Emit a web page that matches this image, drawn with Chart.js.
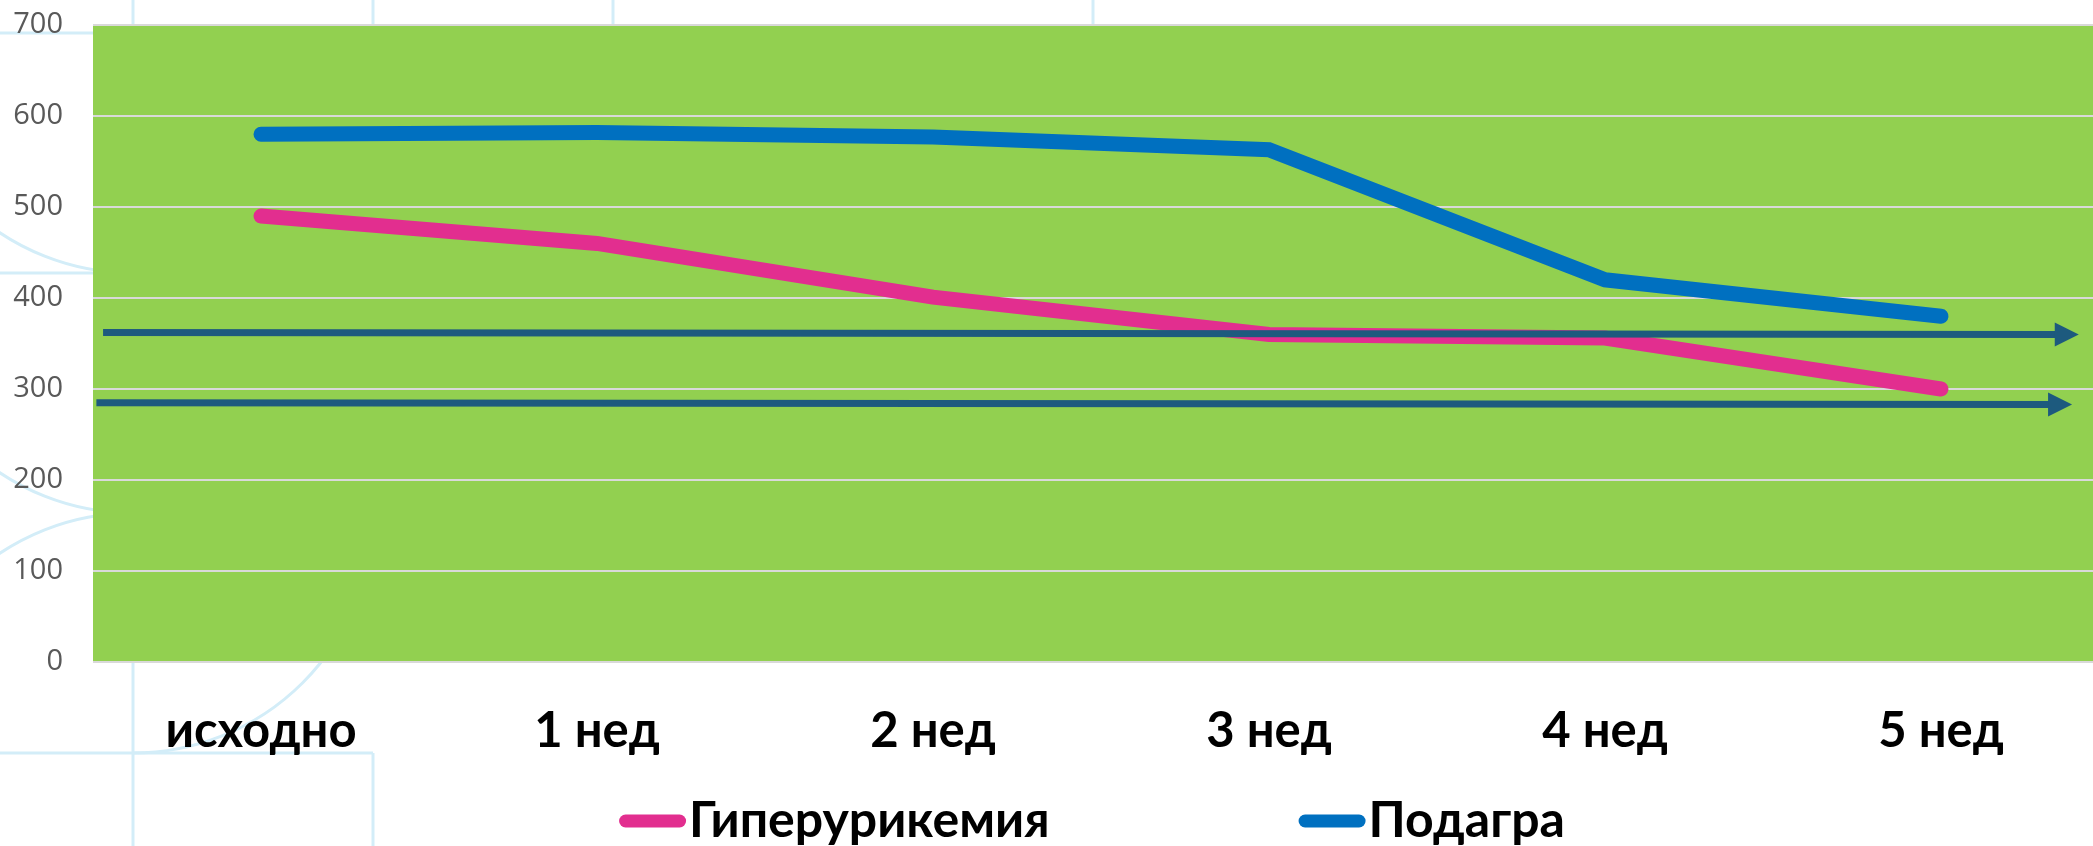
<!DOCTYPE html>
<html>
<head>
<meta charset="utf-8">
<script src="https://cdn.jsdelivr.net/npm/chart.js@4/dist/chart.umd.min.js"></script>
<style>
  html, body { margin: 0; padding: 0; background: #ffffff; overflow: hidden; }
  #wrap { position: relative; width: 2130px; height: 846px; }
</style>
</head>
<body>
<div id="wrap"><canvas id="c"></canvas></div>
<script>
// Weeks of observation
const categories = ['исходно', '1 нед', '2 нед', '3 нед', '4 нед', '5 нед'];
// Serum uric acid, µmol/l
const hyperuricemia = [490, 460, 401, 360, 356, 300];
const gout = [580, 582, 577, 563, 420, 380];
const seriesNames = ['Гиперурикемия', 'Подагра'];
// Target levels marked with arrows (value at start, value at end)
const targetStart = [362, 285];
const targetEnd = [360, 283];
// Value axis
const yMin = 0, yMax = 700, yStep = 100;

const PINK = '#E22E8F';
const BLUE = '#0070C0';
const ARROW = '#1D5A7E';
const PLOT_BG = '#92D050';
const DECOR = '#d3edf8';

// Light decorative pattern behind the chart plus the green plot background
const backdrop = {
  id: 'backdrop',
  beforeDraw(chart) {
    const { ctx, chartArea: a } = chart;
    ctx.save();
    ctx.strokeStyle = DECOR;
    ctx.lineWidth = 3;
    const R = 240;
    const line = (x1, y1, x2, y2) => { ctx.beginPath(); ctx.moveTo(x1, y1); ctx.lineTo(x2, y2); ctx.stroke(); };
    const arc = (cx, cy, s, e) => { ctx.beginPath(); ctx.arc(cx, cy, R, s, e); ctx.stroke(); };
    [133, 373, 613, 1093].forEach(x => line(x, 0, x, 60));
    line(133, 600, 133, 846);
    line(373, 753, 373, 846);
    line(0, 33, 140, 33);
    line(0, 273, 140, 273);
    line(0, 753, 373, 753);
    arc(133, 33, Math.PI / 2, Math.PI);
    arc(133, 273, Math.PI / 2, Math.PI);
    arc(133, 753, Math.PI, Math.PI * 1.5);
    arc(133, 513, 0, Math.PI / 2);
    ctx.fillStyle = PLOT_BG;
    ctx.fillRect(a.left, a.top, a.right - a.left, a.bottom - a.top);
    ctx.restore();
  }
};

// Horizontal target arrows drawn over the series
const targetArrows = {
  id: 'targetArrows',
  afterDatasetsDraw(chart, args, opts) {
    const { ctx, scales: { x, y } } = chart;
    ctx.save();
    ctx.strokeStyle = ARROW;
    ctx.fillStyle = ARROW;
    ctx.lineWidth = opts.width;
    targetStart.forEach((v, i) => {
      const x1 = x.getPixelForValue(opts.from[i]);
      const x2 = x.getPixelForValue(opts.to[i]);
      const y1 = y.getPixelForValue(v);
      const y2 = y.getPixelForValue(targetEnd[i]);
      const hl = opts.headLength, hw = opts.headWidth;
      const bx = x2 - hl;
      const by = y1 + (y2 - y1) * (bx - x1) / (x2 - x1);
      ctx.beginPath();
      ctx.moveTo(x1, y1);
      ctx.lineTo(bx + 1, by);
      ctx.stroke();
      ctx.beginPath();
      ctx.moveTo(x2, y2);
      ctx.lineTo(bx, by - hw / 2);
      ctx.lineTo(bx, by + hw / 2);
      ctx.closePath();
      ctx.fill();
    });
    ctx.restore();
  }
};

// Legend row: thick rounded swatch followed by the series name
const lineLegend = {
  id: 'lineLegend',
  afterDraw(chart, args, opts) {
    const { ctx } = chart;
    ctx.save();
    ctx.font = opts.font;
    ctx.textBaseline = 'middle';
    const items = chart.data.datasets.map(ds => ({
      text: ds.label, color: ds.borderColor, w: ctx.measureText(ds.label).width
    }));
    const itemW = it => opts.swatch + opts.textGap + it.w;
    const total = items.reduce((s, it) => s + itemW(it), 0) + opts.itemGap * (items.length - 1);
    let xPos = opts.centerX - total / 2;
    items.forEach(it => {
      ctx.strokeStyle = it.color;
      ctx.lineWidth = opts.swatchWidth;
      ctx.lineCap = 'round';
      ctx.beginPath();
      ctx.moveTo(xPos + opts.swatchWidth / 2, opts.y);
      ctx.lineTo(xPos + opts.swatch - opts.swatchWidth / 2, opts.y);
      ctx.stroke();
      ctx.fillStyle = '#000000';
      ctx.fillText(it.text, xPos + opts.swatch + opts.textGap, opts.y);
      xPos += itemW(it) + opts.itemGap;
    });
    ctx.restore();
  }
};

new Chart(document.getElementById('c'), {
  type: 'line',
  data: {
    labels: categories,
    datasets: [
      {
        label: seriesNames[0], data: hyperuricemia,
        borderColor: PINK, backgroundColor: PINK,
        borderWidth: 15, borderCapStyle: 'round', borderJoinStyle: 'miter',
        pointRadius: 0, tension: 0
      },
      {
        label: seriesNames[1], data: gout,
        borderColor: BLUE, backgroundColor: BLUE,
        borderWidth: 15, borderCapStyle: 'round', borderJoinStyle: 'miter',
        pointRadius: 0, tension: 0
      }
    ]
  },
  options: {
    responsive: true,
    maintainAspectRatio: false,
    animation: false,
    events: [],
    layout: { padding: { left: 0, right: 21, top: 25, bottom: 0 } },
    plugins: {
      legend: { display: false },
      tooltip: { enabled: false },
      targetArrows: { from: [-0.47, -0.49], to: [5.41, 5.39], width: 7, headLength: 24, headWidth: 24 },
      lineLegend: {
        font: 'bold 50px Lato', y: 821, centerX: 1092,
        swatch: 67, swatchWidth: 13, textGap: 3, itemGap: 249
      }
    },
    scales: {
      x: {
        offset: true,
        grid: { display: false, drawTicks: false },
        border: { display: false },
        ticks: {
          color: '#000000', padding: 40,
          font: { family: 'Lato', weight: 'bold', size: 49 },
          maxRotation: 0, autoSkip: false
        },
        afterFit(scale) {
          scale.height = 184;
          scale.paddingLeft = 0;
          scale.paddingRight = 0;
        }
      },
      y: {
        min: yMin, max: yMax,
        grid: { color: '#d9d9d9', lineWidth: 2, drawTicks: false },
        border: { display: false },
        ticks: {
          stepSize: yStep, color: '#595959', padding: 30,
          font: { family: 'Open Sans', size: 29 }
        },
        afterFit(scale) {
          scale.width = 93;
          scale.paddingTop = 0;
          scale.paddingBottom = 0;
        }
      }
    }
  },
  plugins: [backdrop, targetArrows, lineLegend]
});
</script>
</body>
</html>
